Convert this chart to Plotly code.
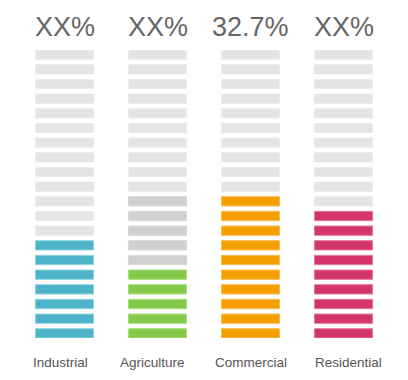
import plotly.graph_objects as go

categories = ["Industrial", "Agriculture", "Commercial", "Residential"]
top_labels = ["XX%", "XX%", "32.7%", "XX%"]
filled_rows = [7, 5, 10, 9]
secondary_rows = [0, 5, 0, 0]
total_rows = 20

fill_colors = ["#4db3c8", "#84c94a", "#f59e00", "#d3346b"]
fill_lines = ["#8fd3e3", "#a9de7c", "#f9bd4f", "#e47a9f"]
secondary_color = "#d0d0d0"
empty_color = "#e4e4e4"

BAR_H = 0.635
BAR_W = 0.625
LABEL_SHIFTS = [-4, -5, 0, 5]

fig = go.Figure()
for ci, cat in enumerate(categories):
    xs_f, bases_f = [], []
    xs_s, bases_s = [], []
    xs_e, bases_e = [], []
    for r in range(total_rows):
        if r < filled_rows[ci]:
            xs_f.append(ci); bases_f.append(r)
        elif r < filled_rows[ci] + secondary_rows[ci]:
            xs_s.append(ci); bases_s.append(r)
        else:
            xs_e.append(ci); bases_e.append(r)
    for xs, bases, col, lc in [
        (xs_e, bases_e, empty_color, "#ececec"),
        (xs_s, bases_s, secondary_color, "#d8d8d8"),
        (xs_f, bases_f, fill_colors[ci], fill_lines[ci]),
    ]:
        if not xs:
            continue
        fig.add_trace(go.Bar(
            x=xs, y=[BAR_H] * len(xs), base=bases, width=BAR_W,
            marker=dict(color=col, line=dict(color=lc, width=1)),
            hoverinfo="skip", showlegend=False,
        ))

for ci, cat in enumerate(categories):
    fig.add_annotation(x=ci, y=1.081, xref="x", yref="paper", text=top_labels[ci],
                       showarrow=False, font=dict(size=27, color="#666666",
                       family="Liberation Sans, Arial, sans-serif"),
                       xanchor="center", yanchor="middle")
    fig.add_annotation(x=ci, y=-0.0848, xref="x", yref="paper", text=cat,
                       showarrow=False, xshift=LABEL_SHIFTS[ci],
                       font=dict(size=13.5, color="#555555",
                       family="Liberation Sans, Arial, sans-serif"),
                       xanchor="center", yanchor="middle")

fig.update_layout(
    width=400, height=372,
    margin=dict(l=10, r=18, t=42, b=42.4),
    barmode="overlay",
    plot_bgcolor="white", paper_bgcolor="white",
    xaxis=dict(range=[-0.5, 3.5], visible=False, fixedrange=True),
    yaxis=dict(range=[0, total_rows - 1 + BAR_H], visible=False, fixedrange=True),
)
fig.write_html("out.html", config={"displayModeBar": False})
